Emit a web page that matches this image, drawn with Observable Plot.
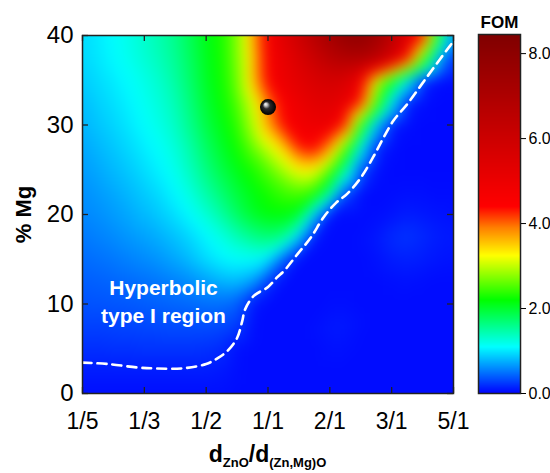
<!DOCTYPE html>
<html><head><meta charset="utf-8">
<script src="https://cdn.jsdelivr.net/npm/d3@7"></script>
<script src="https://cdn.jsdelivr.net/npm/@observablehq/plot@0.6"></script>
<style>
body{margin:0;background:#fff;}
#wrap{position:relative;width:550px;height:473px;font-family:"Liberation Sans",Arial,sans-serif;}
#wrap svg{position:absolute;left:0;top:0;}
</style></head><body><div id="wrap"></div>
<script>
// ---- data ----
const xTickPos = [0, 1, 2, 3, 4, 5, 6];
const xTickLabels = ["1/5", "1/3", "1/2", "1/1", "2/1", "3/1", "5/1"];
const yTicks = [0, 10, 20, 30, 40];
const cbTicks = [0, 2, 4, 6, 8];

// grid of FOM values (columns = position on ratio axis, rows = % Mg)
const gridX = [0, 0.25, 0.5, 0.75, 1, 1.25, 1.5, 1.75, 2, 2.25, 2.5, 2.75, 3, 3.25, 3.5, 3.75, 4, 4.25, 4.5, 4.75, 5, 5.25, 5.5, 5.75, 6];
const gridY = [40, 37.5, 35, 32.5, 30, 27.5, 25, 22.5, 20, 17.5, 15, 12.5, 10, 7.5, 5, 2.5, 0];
const fom = [
  [0.95,1.02,1.1,1.2,1.32,1.45,1.6,1.85,2.1,2.3,2.7,3.6,4.7,5.4,6.0,6.7,7.3,7.8,7.9,7.5,6.6,5.5,4.6,2.1,0.5],
  [0.93,1.0,1.08,1.17,1.28,1.4,1.56,1.8,2.07,2.28,2.68,3.5,4.6,5.1,5.6,6.1,6.6,6.9,7.0,6.6,5.7,4.6,2.6,0.8,0.08],
  [0.88,0.95,1.02,1.1,1.2,1.32,1.5,1.75,2.04,2.25,2.62,3.5,4.5,5.0,5.3,5.6,5.8,5.7,4.9,3.2,2.2,1.1,0.15,0.05,0.05],
  [0.82,0.9,0.97,1.05,1.15,1.26,1.42,1.68,1.98,2.2,2.5,3.1,3.9,4.6,5.0,5.3,5.4,5.1,4.3,2.5,1.0,0.12,0.05,0.04,0.04],
  [0.78,0.85,0.92,1.0,1.1,1.2,1.35,1.6,1.9,2.12,2.38,2.9,3.7,4.4,4.8,5.0,5.0,4.3,2.3,0.8,0.1,0.05,0.04,0.04,0.04],
  [0.72,0.79,0.86,0.94,1.03,1.12,1.26,1.48,1.78,2.02,2.25,2.6,3.05,3.5,4.3,4.5,3.8,2.6,1.1,0.15,0.05,0.04,0.04,0.04,0.04],
  [0.67,0.73,0.8,0.87,0.96,1.05,1.18,1.38,1.65,1.9,2.1,2.3,2.55,2.9,3.3,3.3,2.6,1.5,0.3,0.06,0.04,0.04,0.04,0.04,0.04],
  [0.62,0.67,0.73,0.8,0.88,0.96,1.08,1.25,1.48,1.72,1.95,2.12,2.3,2.45,2.55,2.4,1.6,0.3,0.05,0.04,0.05,0.06,0.06,0.05,0.05],
  [0.58,0.62,0.67,0.73,0.8,0.87,0.97,1.1,1.28,1.5,1.78,2.02,2.15,2.15,2.0,0.9,0.08,0.05,0.05,0.06,0.08,0.12,0.1,0.08,0.07],
  [0.52,0.56,0.6,0.65,0.7,0.76,0.84,0.94,1.07,1.22,1.42,1.6,1.7,1.6,0.9,0.1,0.05,0.05,0.06,0.1,0.18,0.22,0.17,0.12,0.1],
  [0.46,0.49,0.52,0.56,0.6,0.65,0.72,0.82,0.95,1.05,1.12,1.12,1.0,0.4,0.05,0.05,0.05,0.05,0.05,0.07,0.12,0.14,0.12,0.09,0.08],
  [0.4,0.42,0.44,0.46,0.49,0.52,0.56,0.62,0.7,0.78,0.82,0.7,0.25,0.05,0.05,0.05,0.05,0.05,0.05,0.05,0.06,0.07,0.06,0.05,0.05],
  [0.35,0.36,0.37,0.38,0.4,0.42,0.44,0.46,0.48,0.48,0.42,0.1,0.05,0.05,0.05,0.05,0.06,0.06,0.05,0.05,0.05,0.05,0.05,0.05,0.05],
  [0.28,0.28,0.29,0.3,0.31,0.32,0.33,0.33,0.33,0.32,0.25,0.06,0.05,0.05,0.05,0.06,0.1,0.1,0.06,0.05,0.05,0.05,0.05,0.05,0.05],
  [0.2,0.2,0.21,0.21,0.22,0.22,0.22,0.22,0.21,0.18,0.06,0.05,0.05,0.05,0.05,0.05,0.07,0.07,0.05,0.05,0.05,0.05,0.05,0.05,0.05],
  [0.12,0.12,0.12,0.12,0.12,0.12,0.12,0.12,0.12,0.1,0.06,0.05,0.05,0.05,0.05,0.05,0.05,0.05,0.05,0.05,0.05,0.05,0.05,0.05,0.05],
  [0.06,0.06,0.06,0.06,0.06,0.06,0.06,0.06,0.06,0.06,0.05,0.05,0.05,0.05,0.05,0.05,0.05,0.05,0.05,0.05,0.05,0.05,0.05,0.05,0.05]
];

// dashed white boundary of the hyperbolic type I region
const boundaryX = [0, 0.4, 0.9, 1.2, 1.6, 2.0, 2.2, 2.35, 2.5, 2.58, 2.63, 2.77, 3.0, 3.15, 3.26, 3.48, 3.69, 3.9, 4.1, 4.28, 4.5, 4.7, 4.87, 5.03, 5.26, 5.47, 5.68, 5.95, 6.0];
const boundaryY = [3.45, 3.3, 2.9, 2.8, 2.8, 3.3, 4.0, 4.8, 6.2, 8.0, 9.4, 10.9, 11.9, 13.0, 13.7, 15.6, 17.4, 19.7, 21.3, 22.3, 24.1, 26.4, 28.6, 30.5, 32.4, 34.4, 36.4, 38.9, 39.3];

const markerPoint = [{x: 3, y: 32}];
const regionLabel = [{x: 1.31, y: 10.4, text: "Hyperbolic\ntype I region"}];

const colorStops = [0, 1.1, 2.2, 3.25, 3.9, 4.4, 8.45];
const colorRange = ["#0000ff", "#00ffff", "#00ff00", "#ffff00", "#ff8000", "#ff0000", "#800000"];

// ---- build ----
const points = gridY.flatMap((y, j) => gridX.map((x, i) => ({x, y, v: fom[j][i]})));
const boundary = boundaryX.map((x, i) => ({x, y: boundaryY[i]}));

const W = 550, H = 473, mL = 82, mR = 97, mT = 35, mB = 80;
const fw = W - mL - mR, fh = H - mT - mB;
const font = '"Liberation Sans", Arial, sans-serif';
const colorScale = {type: "linear", domain: colorStops, range: colorRange, interpolate: "rgb"};

const main = Plot.plot({
  width: W, height: H, marginLeft: mL, marginRight: mR, marginTop: mT, marginBottom: mB,
  style: {fontFamily: font, background: "white", overflow: "visible", color: "black"},
  x: {domain: [0, 6]},
  y: {domain: [0, 40]},
  color: colorScale,
  marks: [
    Plot.raster(points, {x: "x", y: "y", fill: "v", x1: 0, x2: 6, y1: 0, y2: 40, interpolate: "barycentric", blur: 6, pixelSize: 1}),
    Plot.line(boundary, {x: "x", y: "y", stroke: "white", strokeWidth: 2.6, strokeDasharray: "9,6", curve: "catmull-rom"}),
    Plot.text(regionLabel, {x: "x", y: "y", text: "text", fill: "white", fontWeight: "bold", fontSize: 21, lineHeight: 1.33}),
    Plot.dot(markerPoint, {x: "x", y: "y", r: 8, fill: "url(#sphereShade)"}),
    Plot.tickX(xTickPos, {x: d => d, insetTop: fh - 6, stroke: "#222", strokeWidth: 1.3}),
    Plot.tickX(xTickPos, {x: d => d, insetBottom: fh - 6, stroke: "#222", strokeWidth: 1.3}),
    Plot.tickY(yTicks, {y: d => d, insetRight: fw - 6, stroke: "#222", strokeWidth: 1.3}),
    Plot.tickY(yTicks, {y: d => d, insetLeft: fw - 6, stroke: "#222", strokeWidth: 1.3}),
    Plot.frame({stroke: "#222", strokeWidth: 1.5}),
    Plot.axisX(xTickPos, {tickFormat: i => xTickLabels[i], tickSize: 0, tickPadding: 19, fontSize: 23, label: null}),
    Plot.axisY(yTicks, {tickSize: 0, tickPadding: 9, fontSize: 24, label: null}),
    Plot.text(["% Mg"], {frameAnchor: "left", text: d => d, textAnchor: "middle", rotate: -90, dx: -59, fontWeight: "bold", fontSize: 22})
  ]
});

const cb = Plot.plot({
  width: W, height: H, marginLeft: 478, marginRight: 30, marginTop: 34, marginBottom: 80,
  style: {fontFamily: font, background: "transparent", overflow: "visible", color: "black"},
  x: {domain: [0, 1], axis: null},
  y: {domain: [0, 8.45], axis: null},
  color: colorScale,
  marks: [
    Plot.raster({fill: (x, y) => y, x1: 0, x2: 1, y1: 0, y2: 8.45, pixelSize: 1}),
    Plot.frame({stroke: "#222", strokeWidth: 1.5}),
    Plot.axisY(cbTicks, {anchor: "right", tickSize: 5, tickPadding: 3, tickFormat: d => d.toFixed(1), fontSize: 16, label: null}),
    Plot.text(["FOM"], {frameAnchor: "top", text: d => d, dy: -19, fontWeight: "bold", fontSize: 17})
  ]
});

const wrap = document.getElementById("wrap");
wrap.appendChild(main);
wrap.appendChild(cb);
cb.style.pointerEvents = "none";

// sphere shading + x-axis title with subscripts
const svg = d3.select(main);
const grad = svg.insert("defs", ":first-child").append("radialGradient")
  .attr("id", "sphereShade").attr("cx", "50%").attr("cy", "50%").attr("r", "50%")
  .attr("fx", "33%").attr("fy", "30%");
[["0%", "#ffffff"], ["18%", "#c8c8c8"], ["45%", "#2a2a2a"], ["100%", "#000000"]]
  .forEach(([o, c]) => grad.append("stop").attr("offset", o).attr("stop-color", c));

const xt = svg.append("text").attr("x", mL + fw / 2).attr("y", 462)
  .attr("text-anchor", "middle").attr("font-weight", "bold").attr("font-size", 23).attr("fill", "black");
xt.append("tspan").text("d");
xt.append("tspan").attr("font-size", 13).attr("dy", 5).text("ZnO");
xt.append("tspan").attr("dy", -5).text("/d");
xt.append("tspan").attr("font-size", 13).attr("dy", 5).text("(Zn,Mg)O");
</script>
</body></html>
